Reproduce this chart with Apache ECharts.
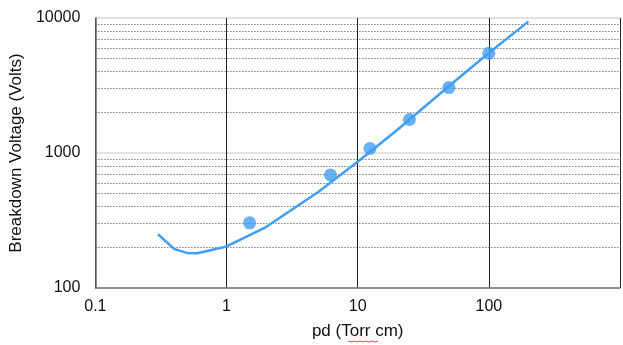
<!DOCTYPE html>
<html>
<head>
<meta charset="utf-8">
<script src="https://cdn.jsdelivr.net/npm/echarts@6/dist/echarts.min.js"></script>
<style>
html,body{margin:0;padding:0;background:#fff;}
#chart{width:623px;height:345px;}
</style>
</head>
<body>
<div id="chart"></div>
<script>
// Curve (Paschen curve) values
const curvePd = [0.3, 0.4, 0.5, 0.6, 1, 2, 5, 10, 20, 50, 100, 200];
const curveV  = [250, 194, 182, 181, 203, 283, 514, 862, 1480, 3150, 5500, 9400];
// Measured points
const measPd = [1.5, 6.2, 12.4, 24.8, 49.6, 100];
const measV  = [304, 688, 1080, 1770, 3050, 5480];
// Minor (dotted) y gridlines
const minorY = [200, 300, 400, 500, 600, 700, 800, 900, 2000, 3000, 4000, 5000, 6000, 7000, 8000, 9000];
// Tick labels shown
const xTickLabels = ['0.1', '1', '10', '100'];
const yTickLabels = ['100', '1000', '10000'];

const FONT = '"Liberation Sans", Arial, Helvetica, sans-serif';
const chart = echarts.init(document.getElementById('chart'), null, {renderer: 'canvas'});

const option = {
  animation: false,
  backgroundColor: '#ffffff',
  grid: {left: 94, top: 18, right: -2, bottom: 54, containLabel: false},
  xAxis: {
    type: 'log', logBase: 10, min: 0.1, max: 1000,
    name: 'pd (Torr cm)', nameLocation: 'middle', nameGap: 35,
    nameTextStyle: {fontFamily: FONT, fontSize: 17, color: '#111'},
    axisLine: {show: true, lineStyle: {color: '#777', width: 1.5}},
    axisTick: {show: false},
    axisLabel: {
      fontFamily: FONT, fontSize: 16, color: '#111', margin: 11,
      formatter: v => { const s = String(+v.toPrecision(6)); return xTickLabels.indexOf(s) >= 0 ? s : ''; }
    },
    splitLine: {show: true, lineStyle: {color: '#222', width: 1}}
  },
  yAxis: {
    type: 'log', logBase: 10, min: 100, max: 10000,
    name: 'Breakdown Voltage (Volts)', nameLocation: 'middle', nameGap: 62,
    nameTextStyle: {fontFamily: FONT, fontSize: 17, color: '#111'},
    axisLine: {show: true, lineStyle: {color: '#666', width: 1.5}},
    axisTick: {show: false},
    axisLabel: {
      fontFamily: FONT, fontSize: 16, color: '#111', margin: 15,
      formatter: v => { const s = String(Math.round(v)); return yTickLabels.indexOf(s) >= 0 ? s : ''; }
    },
    splitLine: {show: true, lineStyle: {color: '#d8d8d8', width: 1.5}}
  },
  series: [
    {
      type: 'line', silent: true, data: [], symbol: 'none',
      markLine: {
        silent: true, symbol: ['none', 'none'], label: {show: false},
        lineStyle: {color: '#444', width: 1, type: [1, 2]},
        data: minorY.map(v => ({yAxis: v}))
      }
    },
    {
      type: 'line', data: curvePd.map((x, i) => [x, curveV[i]]),
      symbol: 'none', smooth: false,
      lineStyle: {color: '#419ef5', width: 2.5}, z: 5
    },
    {
      type: 'scatter', data: measPd.map((x, i) => [x, measV[i]]),
      symbol: 'circle', symbolSize: 13,
      itemStyle: {color: '#419ef5'}, z: 6
    }
  ],
  graphic: [
    {
      type: 'polyline', silent: true,
      shape: {points: [[348,341],[351,342],[354,341],[357,342],[360,341],[363,342],[366,341],[369,342],[372,341],[375,342],[378,341]]},
      style: {stroke: '#e05050', lineWidth: 1, fill: null}
    }
  ]
};
chart.setOption(option);
</script>
</body>
</html>
